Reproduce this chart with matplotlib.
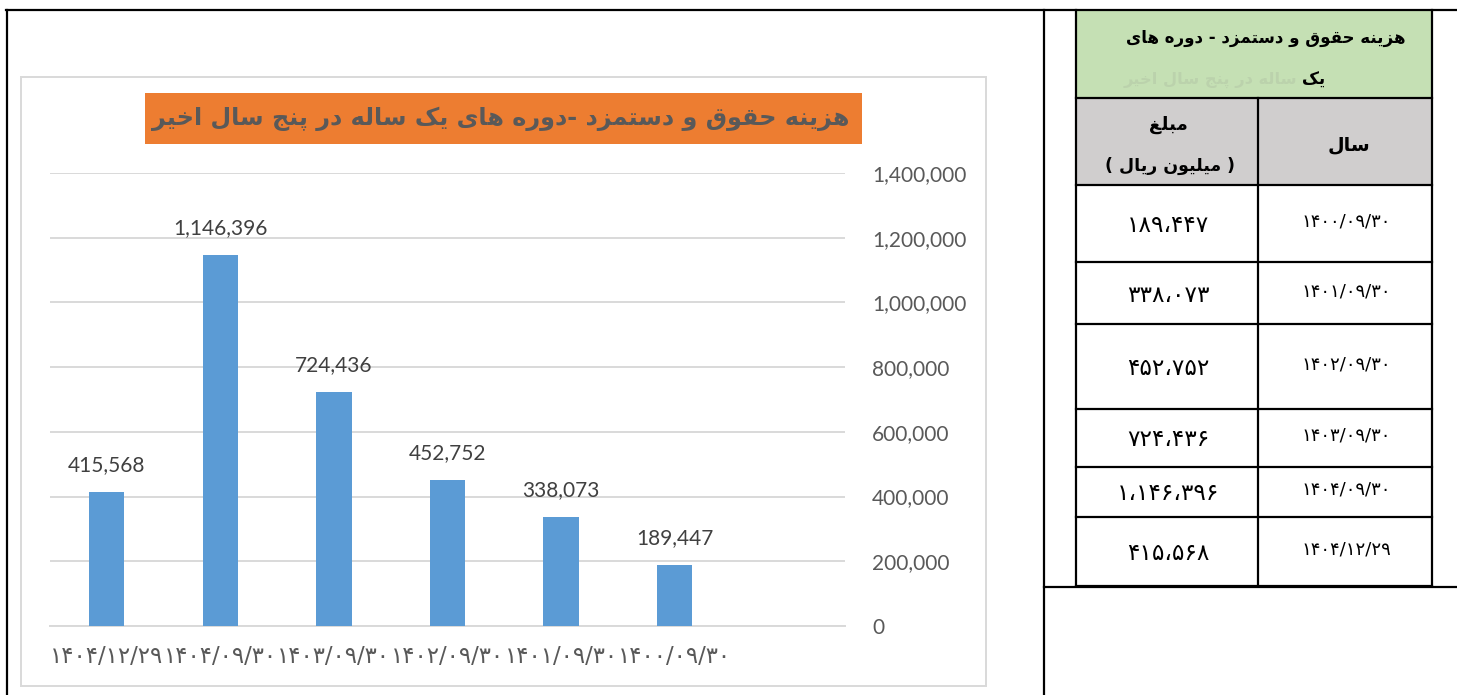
import matplotlib
matplotlib.use('Agg')
import matplotlib.pyplot as plt
from matplotlib.patches import Rectangle
from matplotlib.ticker import FuncFormatter

W, H = 1457, 695

# chart data (left to right as drawn)
dates = ['۱۴۰۴/۱۲/۲۹', '۱۴۰۴/۰۹/۳۰', '۱۴۰۳/۰۹/۳۰', '۱۴۰۲/۰۹/۳۰', '۱۴۰۱/۰۹/۳۰', '۱۴۰۰/۰۹/۳۰']
values = [415568, 1146396, 724436, 452752, 338073, 189447]

title = 'هزینه حقوق و دستمزد -دوره های یک ساله در پنج سال اخیر'
table_title = 'هزینه حقوق و دستمزد - دوره های'
table_title2 = 'یک'
table_title_cut = 'ساله در پنج سال اخیر'
col_amount = 'مبلغ'
col_amount_unit = '( میلیون ریال )'
col_year = 'سال'

# table rows go oldest first
table_dates = ['۱۴۰۰/۰۹/۳۰', '۱۴۰۱/۰۹/۳۰', '۱۴۰۲/۰۹/۳۰', '۱۴۰۳/۰۹/۳۰', '۱۴۰۴/۰۹/۳۰', '۱۴۰۴/۱۲/۲۹']
table_values = [189447, 338073, 452752, 724436, 1146396, 415568]

# arabic contextual forms: (isolated, final, initial, medial)
FORMS = {
    'ا': (0xFE8D, 0xFE8E),
    'ب': (0xFE8F, 0xFE90, 0xFE91, 0xFE92),
    'پ': (0xFB56, 0xFB57, 0xFB58, 0xFB59),
    'ت': (0xFE95, 0xFE96, 0xFE97, 0xFE98),
    'ج': (0xFE9D, 0xFE9E, 0xFE9F, 0xFEA0),
    'ح': (0xFEA1, 0xFEA2, 0xFEA3, 0xFEA4),
    'خ': (0xFEA5, 0xFEA6, 0xFEA7, 0xFEA8),
    'د': (0xFEA9, 0xFEAA),
    'ر': (0xFEAD, 0xFEAE),
    'ز': (0xFEAF, 0xFEB0),
    'س': (0xFEB1, 0xFEB2, 0xFEB3, 0xFEB4),
    'غ': (0xFECD, 0xFECE, 0xFECF, 0xFED0),
    'ق': (0xFED5, 0xFED6, 0xFED7, 0xFED8),
    'ک': (0xFB8E, 0xFB8F, 0xFB90, 0xFB91),
    'ل': (0xFEDD, 0xFEDE, 0xFEDF, 0xFEE0),
    'م': (0xFEE1, 0xFEE2, 0xFEE3, 0xFEE4),
    'ن': (0xFEE5, 0xFEE6, 0xFEE7, 0xFEE8),
    'ه': (0xFEE9, 0xFEEA, 0xFEEB, 0xFEEC),
    'و': (0xFEED, 0xFEEE),
    'ی': (0xFBFC, 0xFBFD, 0xFBFE, 0xFBFF),
}


def fa(s):
    out = []
    for i, c in enumerate(s):
        f = FORMS.get(c)
        if f is None:
            out.append(c)
            continue
        prev = s[i - 1] if i > 0 else ''
        nxt = s[i + 1] if i + 1 < len(s) else ''
        jp = prev in FORMS and len(FORMS[prev]) == 4
        jn = len(f) == 4 and nxt in FORMS
        if jp and jn:
            out.append(chr(f[3]))
        elif jp:
            out.append(chr(f[1]))
        elif jn:
            out.append(chr(f[2]))
        else:
            out.append(chr(f[0]))
    vis = ''.join(reversed(out))
    return vis.translate(str.maketrans('()', ')('))


def fa_num(v):
    return f'{v:,}'.translate(str.maketrans('0123456789,', '۰۱۲۳۴۵۶۷۸۹،'))


fig = plt.figure(figsize=(W / 100, H / 100), dpi=100)
renderer = fig.canvas.get_renderer()


def fit(t, width):
    w = t.get_window_extent(renderer).width
    t.set_fontsize(t.get_fontsize() * width / w)
    return t.get_fontsize()


bg = fig.add_axes([0, 0, 1, 1])
bg.set_xlim(0, W)
bg.set_ylim(H, 0)
bg.axis('off')

# outer frame
k = dict(color='black', lw=1.6)
bg.plot([6, W], [10, 10], **k)
bg.plot([7, 7], [10, H], **k)
bg.plot([1044, 1044], [10, H], **k)
bg.plot([1044, W], [587, 587], **k)

# chart box + title
bg.add_patch(Rectangle((21, 77), 965, 609, fill=False, ec='#D9D9D9', lw=1.4))
bg.add_patch(Rectangle((145, 93), 717, 51, fc='#ED7D31', ec='none'))
tt = bg.text(501, 119, fa(title), ha='center', va='center', fontsize=20,
             fontweight='bold', color='#595959', family='DejaVu Sans')
fit(tt, 695)

# table
tx0, tx1, tmid = 1076, 1432, 1258
rows = [185, 262, 324, 409, 467, 517, 586]
bg.add_patch(Rectangle((tx0, 10), tx1 - tx0, 88, fc='#C5E0B4', ec='none'))
bg.add_patch(Rectangle((tx0, 98), tx1 - tx0, rows[0] - 98, fc='#D0CECE', ec='none'))
for x in (tx0, tx1):
    bg.plot([x, x], [10, 586], **k)
bg.plot([tmid, tmid], [98, 586], **k)
for y in [98] + rows:
    bg.plot([tx0, tx1], [y, y], **k)

t1 = bg.text(1266, 38, fa(table_title), ha='center', va='center', fontweight='bold',
             fontsize=14, family='DejaVu Sans', color='black')
hs = fit(t1, 280)
bg.text(1325, 80, fa(table_title2), ha='right', va='center', fontweight='bold',
        fontsize=hs, family='DejaVu Sans', color='black')
tc = bg.text(1297, 80, fa(table_title_cut), ha='right', va='center', fontweight='bold',
             fontsize=hs, family='DejaVu Sans', color='#A9B89E', alpha=0.35)
fit(tc, 174)
tc.set_clip_path(Rectangle((tx0, 66), tx1 - tx0, 14, transform=bg.transData))

bg.text(1168, 125, fa(col_amount), ha='center', va='center', fontweight='bold',
        fontsize=hs * 1.1, family='DejaVu Sans')
bg.text(1170, 166, fa(col_amount_unit), ha='center', va='center', fontweight='bold',
        fontsize=hs * 1.05, family='DejaVu Sans')
bg.text(1349, 145, fa(col_year), ha='center', va='center', fontweight='bold',
        fontsize=hs * 1.15, family='DejaVu Sans')

amt_fs = None
date_fs = None
for i, (d, v) in enumerate(zip(table_dates, table_values)):
    yc = (rows[i] + rows[i + 1]) / 2 + 2
    ta = bg.text(1168, yc, fa_num(v), ha='center', va='center', fontsize=15,
                 family='DejaVu Sans', color='black')
    td = bg.text(1346, yc - 4, d, ha='center', va='center', fontsize=11,
                 family='DejaVu Sans', color='black')
    if amt_fs is None:
        amt_fs = fit(ta, 83)
        date_fs = fit(td, 89)
    else:
        ta.set_fontsize(amt_fs)
        td.set_fontsize(date_fs)

# bar chart
ax = fig.add_axes([50 / W, (H - 626) / H, 795 / W, 453 / H])
ax.patch.set_visible(False)
x = range(len(values))
ax.bar(x, values, width=0.31, color='#5B9BD5', zorder=3)
ax.set_xlim(-0.5, 6.5)
ax.set_ylim(0, 1400000)
ax.set_yticks(range(0, 1400001, 200000))
ax.yaxis.set_major_formatter(FuncFormatter(lambda v, p: f'{int(v):,}'))
ax.yaxis.tick_right()
ax.tick_params(axis='y', length=0, pad=19.5, labelsize=15, labelcolor='#595959')
for lab in ax.get_yticklabels():
    lab.set_family('Lato')
ax.grid(axis='y', color='#D9D9D9', lw=1.4)
ax.set_axisbelow(True)
for s in ('top', 'left', 'right'):
    ax.spines[s].set_visible(False)
ax.spines['bottom'].set_color('#D9D9D9')
ax.spines['bottom'].set_linewidth(1.4)

ax.set_xticks(list(x))
ax.set_xticklabels(dates, family='DejaVu Sans', color='#595959', fontsize=12)
ax.tick_params(axis='x', length=0, pad=14)
xl = ax.get_xticklabels()[0]
xfs = fit(xl, 113)
for lab in ax.get_xticklabels():
    lab.set_fontsize(xfs)

for i, v in enumerate(values):
    ax.annotate(f'{v:,}', (i, v), xytext=(0, 12), textcoords='offset points',
                ha='center', va='bottom', fontsize=15, color='#404040', family='Lato')

fig.savefig('out.png', dpi=100)
